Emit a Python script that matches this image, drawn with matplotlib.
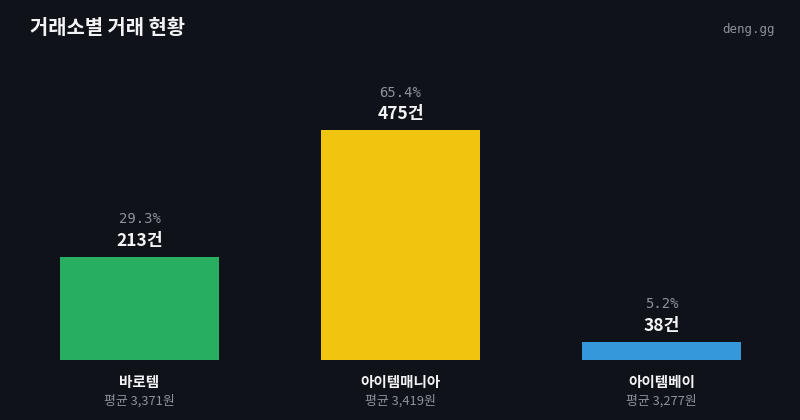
import matplotlib
matplotlib.use('Agg')
import matplotlib.pyplot as plt

plt.rcParams['font.family'] = ['Noto Sans CJK KR', 'DejaVu Sans']

# 데이터
exchanges = ['바로템', '아이템매니아', '아이템베이']
counts = [213, 475, 38]
shares = [29.3, 65.4, 5.2]
avg_prices = [3371, 3419, 3277]
colors = ['#27ae60', '#f1c40f', '#3498db']

BG = '#0f1218'

fig = plt.figure(figsize=(8, 4.2), dpi=100, facecolor=BG)
ax = fig.add_axes([9 / 800, 60 / 420, 783 / 800, 242 / 420])
ax.set_facecolor(BG)

x = list(range(len(exchanges)))
ax.bar(x, counts, width=159 / 261, color=colors)
ax.set_xlim(-0.5, 2.5)
ax.set_ylim(0, 500)
ax.axis('off')

for i, (c, s, name, p) in enumerate(zip(counts, shares, exchanges, avg_prices)):
    ax.annotate(f'{c}건', (i, c), xytext=(0, 5), textcoords='offset points',
                ha='center', va='bottom', color='#f2f3f5', fontsize=12.5,
                fontweight='bold')
    ax.annotate(f'{s:.1f}%', (i, c), xytext=(0, 22), textcoords='offset points',
                ha='center', va='bottom', color='#8d939b', fontsize=10,
                family=['DejaVu Sans Mono'])
    ax.annotate(name, (i, 0), xytext=(0, -10), textcoords='offset points',
                ha='center', va='top', color='#f2f3f5', fontsize=10.5,
                fontweight='bold')
    ax.annotate(f'평균 {p:,}원', (i, 0), xytext=(0, -25), textcoords='offset points',
                ha='center', va='top', color='#8d939b', fontsize=9.3)

fig.text(30 / 800, 1 - 27 / 420, '거래소별 거래 현황', color='#f2f3f5',
         fontsize=14.3, fontweight='bold', va='center', ha='left')
fig.text(775 / 800, 1 - 30 / 420, 'deng.gg', color='#8d939b', fontsize=9,
         va='center', ha='right', family=['DejaVu Sans Mono'])

fig.savefig('out.png', dpi=100, facecolor=BG)
